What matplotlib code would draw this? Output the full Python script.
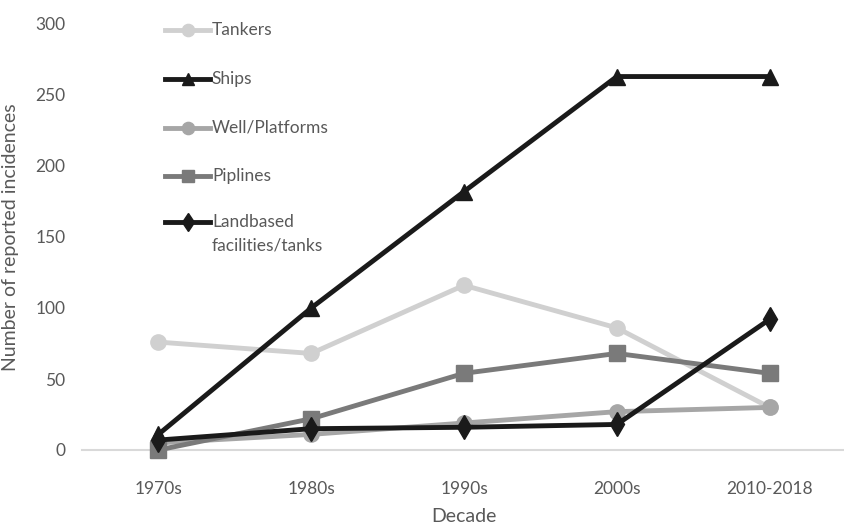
import numpy as np
import matplotlib
matplotlib.use("Agg")
import matplotlib.pyplot as plt
from matplotlib.lines import Line2D

plt.rcParams['font.family'] = ['Lato', 'DejaVu Sans']

# Décadas e número de incidentes por fonte
decadas = ["1970s", "1980s", "1990s", "2000s", "2010-2018"]
tankers = [76, 68, 116, 86, 30]
ships = [11, 100, 182, 263, 263]
well_platforms = [5, 11, 19, 27, 30]
piplines = [0, 22, 54, 68, 54]
landbased = [7, 15, 16, 18, 92]

series = [
    ("Tankers", tankers, '#D0D0D0', 'o', 11),
    ("Ships", ships, '#1A1A1A', '^', 11),
    ("Well/Platforms", well_platforms, '#A6A6A6', 'o', 11),
    ("Piplines", piplines, '#7A7A7A', 's', 11),
    ("Landbased\nfacilities/tanks", landbased, '#1A1A1A', 'd', 12),
]

cor_texto = '#595959'

fig = plt.figure(figsize=(8.44, 5.31), dpi=100)
ax = fig.add_axes([82 / 844, (531 - 450) / 531, 764 / 844, 426 / 531])

x = np.arange(len(decadas))
for nome, valores, cor, marcador, tam in series:
    ax.plot(x, valores, color=cor, lw=3.5, marker=marcador, markersize=tam,
            markerfacecolor=cor, markeredgecolor=cor, clip_on=False)

ax.set_xlim(-0.5, len(decadas) - 0.5)
ax.set_ylim(0, 300)
ax.set_yticks(np.arange(0, 301, 50))
ax.set_xticks(x)
ax.set_xticklabels(decadas)

for lado in ['top', 'right', 'left']:
    ax.spines[lado].set_visible(False)
ax.spines['bottom'].set_color('#D9D9D9')
ax.spines['bottom'].set_linewidth(1.5)
ax.spines['bottom'].set_zorder(0)

ax.tick_params(axis='both', length=0, labelsize=12.5, labelcolor=cor_texto)
ax.tick_params(axis='x', pad=22)
ax.tick_params(axis='y', pad=12)

ax.set_xlabel('Decade', fontsize=14, color=cor_texto, labelpad=8)
ax.set_ylabel('Number of reported incidences', fontsize=14, color=cor_texto, labelpad=12)

# Legenda desenhada à mão no canto superior esquerdo
ys_leg = [0.986, 0.871, 0.756, 0.643, 0.535]
for (nome, valores, cor, marcador, tam), yl in zip(series, ys_leg):
    ax.add_line(Line2D([0.109, 0.168], [yl, yl], transform=ax.transAxes,
                       color=cor, lw=3.5, clip_on=False))
    ax.add_line(Line2D([0.1385], [yl], transform=ax.transAxes, color=cor,
                       marker=marcador, markersize=tam * 0.8, clip_on=False))
    if '\n' in nome:
        ax.text(0.17, yl + 0.02, nome, transform=ax.transAxes, ha='left', va='top',
                fontsize=12.5, color=cor_texto, linespacing=1.6)
    else:
        ax.text(0.17, yl, nome, transform=ax.transAxes, ha='left', va='center',
                fontsize=12.5, color=cor_texto)

fig.savefig('out.png', dpi=100)
